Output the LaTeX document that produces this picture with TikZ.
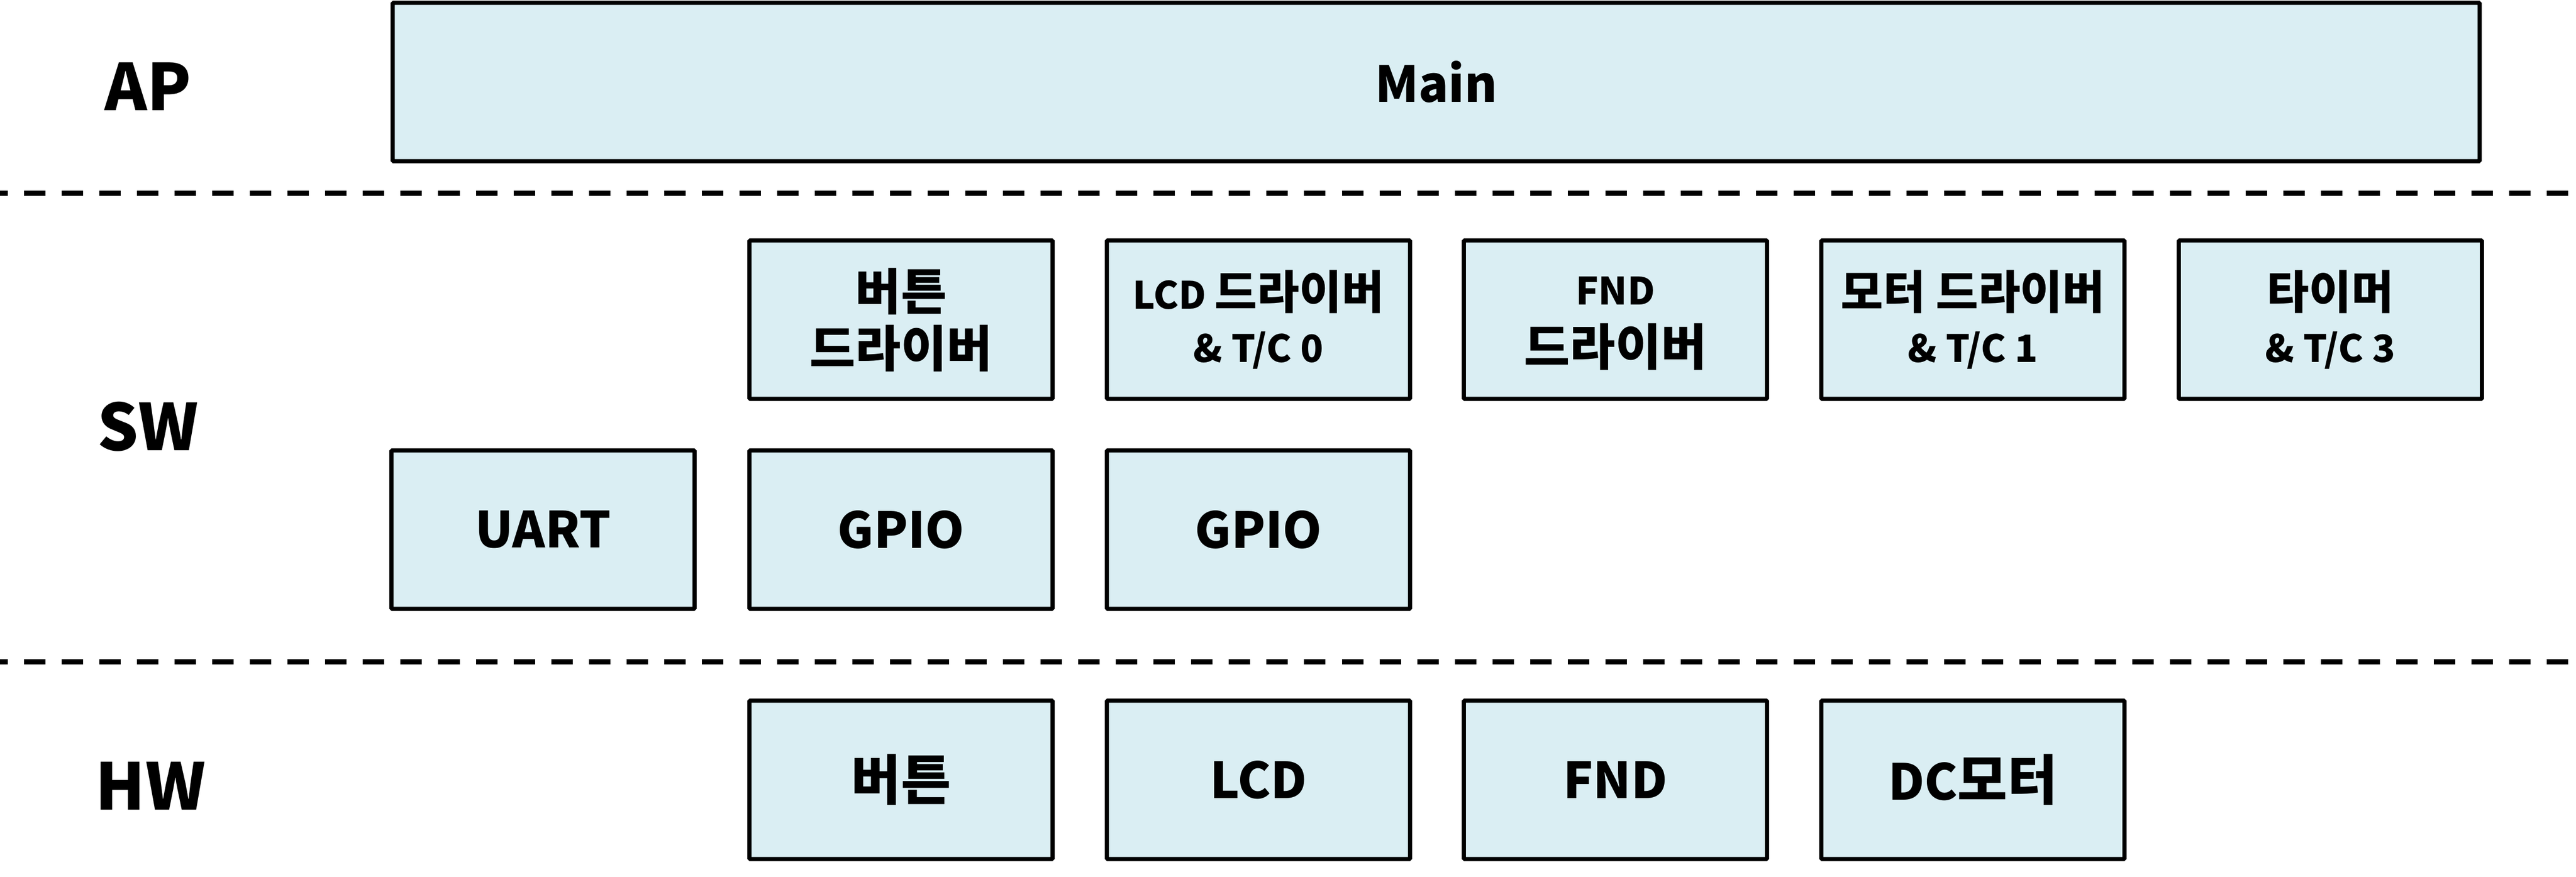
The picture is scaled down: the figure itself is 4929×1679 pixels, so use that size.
\documentclass[tikz,border=0pt]{standalone}
\usepackage{fontspec}
\setmainfont{Noto Sans CJK KR}
\definecolor{boxfill}{HTML}{DAEEF3}
% font sizes
\newcommand{\fsA}{\fontsize{27}{31}\selectfont}
\newcommand{\fsB}{\fontsize{20.5}{29}\selectfont}
\newcommand{\fsK}{\fontsize{25}{29}\selectfont}
\newcommand{\fsC}{\fontsize{29.5}{34}\selectfont}
\newcommand{\fsL}{\fontsize{35}{40}\selectfont}
\tikzset{
  blk/.style={draw=black, line width=0.08cm, fill=boxfill, rounded corners=0.5pt,
    minimum width=5.80cm, minimum height=3.03cm, inner sep=0pt, align=center,
    font=\bfseries\fsA},
  tight/.style={font=\bfseries\fontsize{20.5}{29}\selectfont},
  wide/.style={font=\bfseries\fontsize{27}{31}\selectfont},
  wider/.style={font=\bfseries\fontsize{27}{33}\selectfont, align=center, inner sep=0pt},
  sep/.style={line width=0.1cm, dash pattern=on 0.41cm off 0.31cm, dash phase=0.26cm},
  lbl/.style={font=\bfseries\fsL, inner sep=0pt}
}
\begin{document}
\begin{tikzpicture}[x=0.01cm, y=-0.01cm]
\useasboundingbox (0,0) rectangle (4929,1679);
% layer labels
\node[lbl] (ap) at (283,166) {AP};
\node[lbl] (sw) at (283,817) {SW};
\node[lbl] (hw) at (288,1505) {HW};
% separators
\coordinate (s1a) at (0,370); \coordinate (s1b) at (4929,370);
\coordinate (s2a) at (0,1267); \coordinate (s2b) at (4929,1267);
\draw[sep] (s1a) -- (s1b);
\draw[sep] (s2a) -- (s2b);
% AP
\node[blk, minimum width=39.91cm] (main) at (2748,157) {Main};
% SW row 1
\node[blk, wide] (btndrv) at (1724,612) {버튼\\드라이버};
\node[blk, tight] (lcddrv) at (2408,612) {\fsB LCD \fsK 드라이버\\\fsB \& T/C 0};
\node[blk] (fnddrv) at (3091,612) {};
\node[wider] (fndtxt) at ([yshift=-0.07cm]fnddrv.center) {\fsB FND\\\fsA 드라이버};
\node[blk, tight] (motdrv) at (3775,612) {\fsK 모터 드라이버\\\fsB \& T/C 1};
\node[blk, tight] (timer) at (4459,612) {\fsK 타이머\\\fsB \& T/C 3};
% SW row 2
\node[blk] (uart) at (1039,1014) {UART};
\node[blk] (gpio1) at (1724,1014) {GPIO};
\node[blk] (gpio2) at (2408,1014) {GPIO};
% HW
\node[blk] (btn) at (1724,1493) {\fsC 버튼};
\node[blk] (lcd) at (2408,1493) {LCD};
\node[blk] (fnd) at (3091,1493) {FND};
\node[blk] (dcm) at (3775,1493) {DC\fsC 모터};
\end{tikzpicture}
\end{document}
